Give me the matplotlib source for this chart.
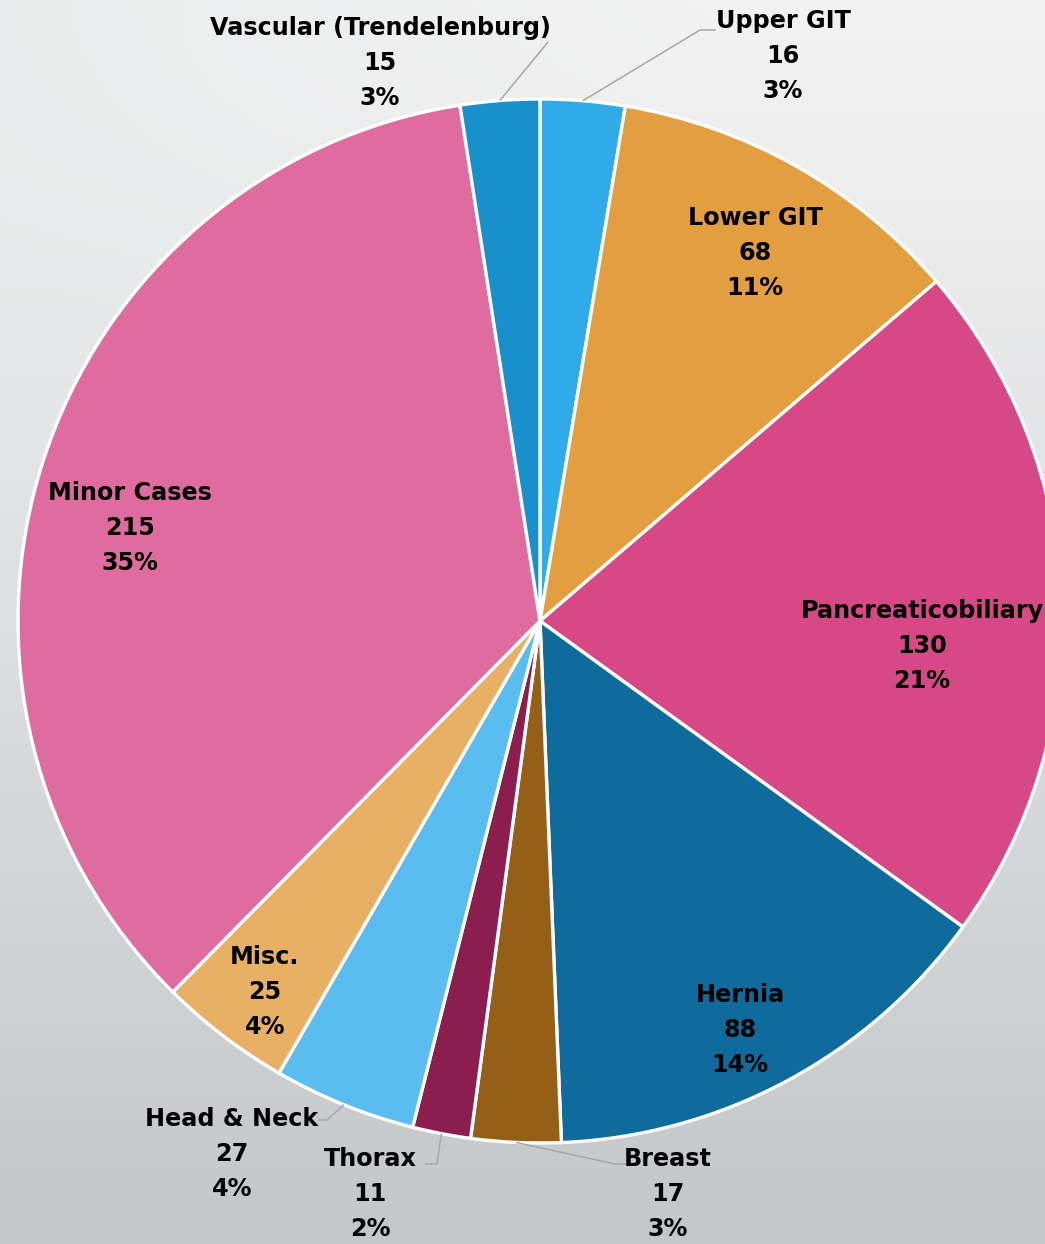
import matplotlib.pyplot as plt
import numpy as np
from matplotlib.colors import to_rgb

categories = ["Upper GIT", "Lower GIT", "Pancreaticobiliary", "Hernia", "Breast",
              "Thorax", "Head & Neck", "Misc.", "Minor Cases", "Vascular (Trendelenburg)"]
values = [16, 68, 130, 88, 17, 11, 27, 25, 215, 15]
pct_labels = ["3%", "11%", "21%", "14%", "3%", "2%", "4%", "4%", "35%", "3%"]
colors = ["#30aae8", "#e29e3f", "#d64886", "#0f6b9c", "#955f17",
          "#8b1d4f", "#5bbcef", "#e8b065", "#df6c9f", "#1790cc"]

W, H = 1045, 1244
fig = plt.figure(figsize=(W / 100, H / 100), dpi=100)

# background gradient
bg = fig.add_axes([0, 0, 1, 1])
top = np.array(to_rgb("#f3f3f3"))
bot = np.array(to_rgb("#c4c7ca"))
left_tint = np.array(to_rgb("#e4e7e8"))
yy = np.linspace(0, 1, 300)[:, None]
xx = np.linspace(0, 1, 200)[None, :]
t = yy ** 1.1
img = top[None, None, :] * (1 - t[..., None]) + bot[None, None, :] * t[..., None]
d = np.clip(1 - (xx * 1.3 + yy * 2.0), 0, 1)[..., None] * 0.6
img = img * (1 - d) + left_tint[None, None, :] * d
bg.imshow(img, aspect="auto", extent=[0, 1, 0, 1])
bg.axis("off")

ax = fig.add_axes([0, 0, 1, 1])
ax.patch.set_alpha(0)
cx, cy, R = 540, 621, 522


def py(y):
    return H - y


wedges, _ = ax.pie(values, colors=colors, startangle=90, counterclock=False,
                   center=(cx, py(cy)), radius=R,
                   wedgeprops=dict(edgecolor="white", linewidth=2.4))
ax.set_xlim(0, W)
ax.set_ylim(0, H)
ax.set_aspect("equal")
ax.axis("off")

font = dict(family=["DejaVu Sans"], fontweight="bold", fontsize=17.2, color="black")

# label block centres (x, middle line y) in pixels
label_pos = {
    "Upper GIT": (783, 56),
    "Lower GIT": (755, 253),
    "Pancreaticobiliary": (922, 646),
    "Hernia": (740, 1030),
    "Breast": (668, 1194),
    "Thorax": (370, 1194),
    "Head & Neck": (232, 1154),
    "Misc.": (265, 992),
    "Minor Cases": (130, 528),
    "Vascular (Trendelenburg)": (380, 63),
}

for cat, v, p in zip(categories, values, pct_labels):
    x, y = label_pos[cat]
    for k, line in enumerate([cat, str(v), p]):
        ax.text(x, py(y + (k - 1) * 35), line, ha="center", va="center", **font)

# leader lines for the labels placed outside the pie
leaders = {
    "Vascular (Trendelenburg)": [(548, 42)],
    "Upper GIT": [(700, 30), (716, 30)],
    "Head & Neck": [(327, 1120), (318, 1120)],
    "Thorax": [(437, 1164), (425, 1164)],
    "Breast": [(615, 1164), (626, 1164)],
}
angles = {}
cum = 0
for cat, v in zip(categories, values):
    mid = 90 - (cum + v / 2) / sum(values) * 360
    angles[cat] = np.deg2rad(mid)
    cum += v
for cat, pts in leaders.items():
    a = angles[cat]
    sx, sy = cx + R * np.cos(a), py(cy) + R * np.sin(a)
    xs = [sx] + [p[0] for p in pts]
    ys = [sy] + [py(p[1]) for p in pts]
    ax.plot(xs, ys, color="#a6a6a6", lw=1.1, solid_capstyle="butt", zorder=5)

fig.savefig("out.png", dpi=100)
